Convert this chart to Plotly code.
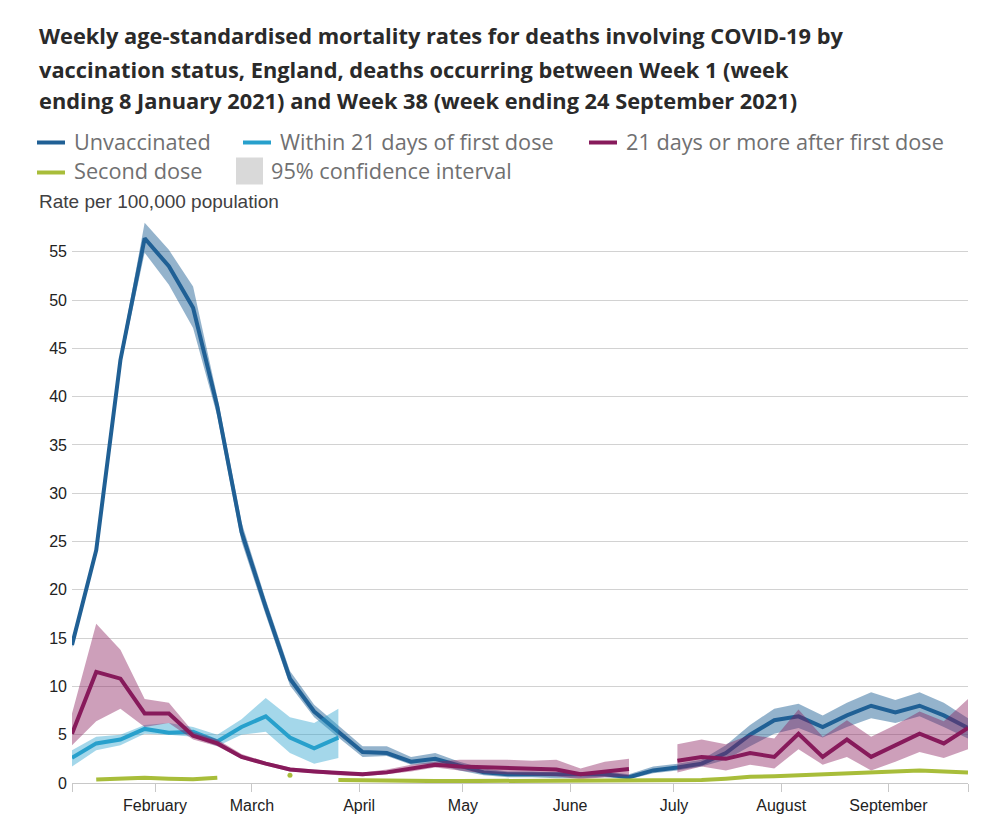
import datetime as dt
import plotly.graph_objects as go

# ---------------- data ----------------
start = dt.date(2021, 1, 8)
weeks = [start + dt.timedelta(days=7 * i) for i in range(38)]

unvacc = [14.3, 24.1, 43.8, 56.4, 53.5, 49.2, 39.0, 26.0, 18.2, 10.8, 7.4, 5.3, 3.2, 3.1, 2.2, 2.5,
          1.8, 1.1, 0.9, 0.9, 0.8, 0.8, 0.9, 0.6, 1.3, 1.6, 2.0, 3.1, 5.0, 6.5, 6.9, 5.8, 7.0, 8.0,
          7.3, 8.0, 7.0, 5.7]
unvacc_hi = [14.6, 24.5, 44.4, 58.0, 55.2, 51.4, 40.0, 27.0, 19.0, 11.6, 8.1, 5.9, 3.8, 3.8, 2.7, 3.1,
             2.2, 1.5, 1.2, 1.2, 1.1, 1.1, 1.2, 0.9, 1.7, 2.0, 2.4, 3.9, 6.0, 7.7, 8.2, 7.0, 8.3, 9.4,
             8.6, 9.4, 8.3, 6.7]
unvacc_lo = [14.0, 23.7, 43.2, 54.9, 51.6, 47.1, 38.0, 25.0, 17.4, 10.1, 6.8, 4.7, 2.7, 2.8, 1.9, 2.0,
             1.3, 0.8, 0.6, 0.6, 0.5, 0.5, 0.6, 0.4, 1.0, 1.3, 1.7, 2.4, 3.8, 5.1, 5.7, 4.7, 5.8, 6.7,
             6.2, 6.9, 5.8, 4.6]

within = [2.6, 4.1, 4.5, 5.6, 5.2, 5.3, 4.3, 5.8, 6.9, 4.7, 3.6, 4.7] + [None] * 26
within_hi = [3.4, 4.8, 5.0, 6.0, 6.2, 5.8, 5.0, 6.6, 8.8, 6.8, 6.2, 7.7] + [None] * 26
within_lo = [1.7, 3.4, 3.9, 5.1, 5.0, 4.8, 3.8, 5.0, 5.3, 3.1, 2.0, 2.6] + [None] * 26

after21 = [5.1, 11.5, 10.8, 7.2, 7.2, 4.9, 4.1, 2.7, 2.0, 1.4, 1.2, 1.0, 0.9, 1.1, 1.5, 1.9,
           1.7, 1.6, 1.5, 1.4, 1.4, 0.9, 1.2, 1.45, None, 2.3, 2.7, 2.5, 3.1, 2.7, 5.1, 2.7, 4.5, 2.7,
           3.9, 5.1, 4.1, 5.7]
after21_hi = [7.2, 16.5, 13.8, 8.7, 8.3, 5.3, 4.5, 3.0, 2.2, 1.6, 1.4, 1.2, 1.1, 1.4, 1.9, 2.2,
              2.4, 2.4, 2.4, 2.3, 2.4, 1.5, 2.2, 2.5, None, 4.0, 4.5, 4.0, 5.0, 4.6, 7.6, 4.8, 6.5, 4.8,
              6.0, 7.4, 6.4, 8.7]
after21_lo = [3.9, 6.4, 7.7, 5.8, 6.2, 4.5, 3.8, 2.5, 1.8, 1.2, 1.0, 0.8, 0.7, 0.9, 1.2, 1.6,
              1.3, 1.0, 0.9, 0.8, 0.7, 0.4, 0.6, 0.7, None, 1.1, 1.7, 1.3, 1.9, 1.5, 3.5, 1.9, 2.7, 1.3,
              2.2, 3.2, 2.6, 3.5]

second = [None, 0.35, 0.5, 0.55, 0.45, 0.4, 0.55, None, None, 0.8, None, 0.3, 0.25, 0.2, 0.2, 0.2,
          0.2, 0.2, 0.2, 0.2, 0.2, 0.2, 0.2, 0.2, 0.2, 0.25, 0.3, 0.45, 0.65, 0.7, 0.8, 0.9, 0.95, 1.0,
          1.1, 1.3, 1.2, 1.1]

month_ticks = ["2021-02-01", "2021-03-01", "2021-04-01", "2021-05-01", "2021-06-01",
               "2021-07-01", "2021-08-01", "2021-09-01"]
month_labels = ["February", "March", "April", "May", "June", "July", "August", "September"]
y_ticks = list(range(0, 56, 5))

title_lines = [
    "Weekly age-standardised mortality rates for deaths involving COVID-19 by",
    "vaccination status, England, deaths occurring between Week 1 (week",
    "ending 8 January 2021) and Week 38 (week ending 24 September 2021)",
]
y_title = "Rate per 100,000 population"

series = [
    ("Unvaccinated", unvacc, unvacc_hi, unvacc_lo, "#206095", "rgba(32,96,149,0.48)"),
    ("Within 21 days of first dose", within, within_hi, within_lo, "#27a0cc", "rgba(39,160,204,0.42)"),
    ("21 days or more after first dose", after21, after21_hi, after21_lo, "#871a5b", "rgba(135,26,91,0.42)"),
    ("Second dose", second, None, None, "#a8bd3a", None),
]

# ---------------- figure ----------------
fig = go.Figure()


def segments(vals):
    segs, cur = [], []
    for i, v in enumerate(vals):
        if v is None:
            if cur:
                segs.append(cur)
            cur = []
        else:
            cur.append(i)
    if cur:
        segs.append(cur)
    return segs


for name, vals, hi, lo, col, fillcol in series:
    if hi is not None:
        bx, by = [], []
        for seg in segments(hi):
            bx += [weeks[i] for i in seg] + [weeks[i] for i in reversed(seg)] + [None]
            by += [hi[i] for i in seg] + [lo[i] for i in reversed(seg)] + [None]
        fig.add_trace(go.Scatter(x=bx, y=by, mode="lines", fill="toself", fillcolor=fillcol,
                                 line=dict(width=0), hoverinfo="skip", showlegend=False))
    fig.add_trace(go.Scatter(x=weeks, y=vals, mode="lines", name=name,
                             line=dict(color=col, width=4), showlegend=False))
    iso = [i for i in range(len(vals)) if vals[i] is not None
           and (i == 0 or vals[i - 1] is None) and (i == len(vals) - 1 or vals[i + 1] is None)]
    if iso:
        fig.add_trace(go.Scatter(x=[weeks[i] for i in iso], y=[vals[i] for i in iso], mode="markers",
                                 marker=dict(color=col, size=5), showlegend=False, hoverinfo="skip"))

# ---------------- layout ----------------
W, H = 1000, 832
L, R, T, B = 72, 32, 218, 49
PW, PH = W - L - R, H - T - B


def px(x):
    return (x - L) / PW


def py(y):
    return (H - B - y) / PH


annotations = []
for txt, yc in zip(title_lines, [35.5, 69, 100.5]):
    annotations.append(dict(text=txt, x=px(37), y=py(yc), xref="paper", yref="paper",
                            xanchor="left", yanchor="middle", showarrow=False,
                            font=dict(family="Open Sans", size=21.8, color="#2a2a2a", weight=700)))

annotations.append(dict(text=y_title, x=px(37), y=py(201), xref="paper", yref="paper",
                        xanchor="left", yanchor="middle", showarrow=False,
                        font=dict(family="Liberation Sans, Arial", size=19, color="#414042")))

shapes = []
legend_items = [
    (series[0][0], series[0][4], 37, 142.5, 72),
    (series[1][0], series[1][4], 243, 142.5, 278),
    (series[2][0], series[2][4], 589, 142.5, 624),
    (series[3][0], series[3][4], 37, 172.5, 72),
]
for name, col, sx, sy, tx in legend_items:
    shapes.append(dict(type="line", xref="paper", yref="paper", x0=px(sx), x1=px(sx + 28),
                       y0=py(sy), y1=py(sy), line=dict(color=col, width=4)))
    annotations.append(dict(text=name, x=px(tx), y=py(sy - 1.5), xref="paper", yref="paper",
                            xanchor="left", yanchor="middle", showarrow=False,
                            font=dict(family="Open Sans", size=21.7, color="#707071")))
shapes.append(dict(type="rect", xref="paper", yref="paper", x0=px(236), x1=px(263),
                   y0=py(184.5), y1=py(157.5), fillcolor="#d9d9d9", line=dict(width=0)))
annotations.append(dict(text="95% confidence interval", x=px(269), y=py(171), xref="paper",
                        yref="paper", xanchor="left", yanchor="middle", showarrow=False,
                        font=dict(family="Open Sans", size=21.7, color="#707071")))

fig.update_layout(
    width=W, height=H,
    margin=dict(l=L, r=R, t=T, b=B, pad=0),
    paper_bgcolor="white", plot_bgcolor="white",
    showlegend=False,
    annotations=annotations,
    shapes=shapes,
    xaxis=dict(
        type="date", range=[weeks[0], weeks[-1]],
        tickvals=[weeks[0]] + month_ticks + [weeks[-1]],
        ticktext=[""] + month_labels + [""],
        ticks="outside", ticklen=8, tickcolor="#c8c8c8", tickwidth=1,
        showline=True, linecolor="#c8c8c8", linewidth=1,
        showgrid=False, zeroline=False,
        tickfont=dict(family="Liberation Sans, Arial", size=16, color="#222222"),
    ),
    yaxis=dict(
        range=[0, 58.5], tickvals=y_ticks,
        showgrid=True, gridcolor="#d2d2d2", gridwidth=1,
        zeroline=False, showline=False, ticks="",
        ticklabelstandoff=4,
        tickfont=dict(family="Liberation Sans, Arial", size=16, color="#222222"),
    ),
)

fig.write_html("out.html", config={"displayModeBar": False},
               post_script="document.body.style.margin='0';")
